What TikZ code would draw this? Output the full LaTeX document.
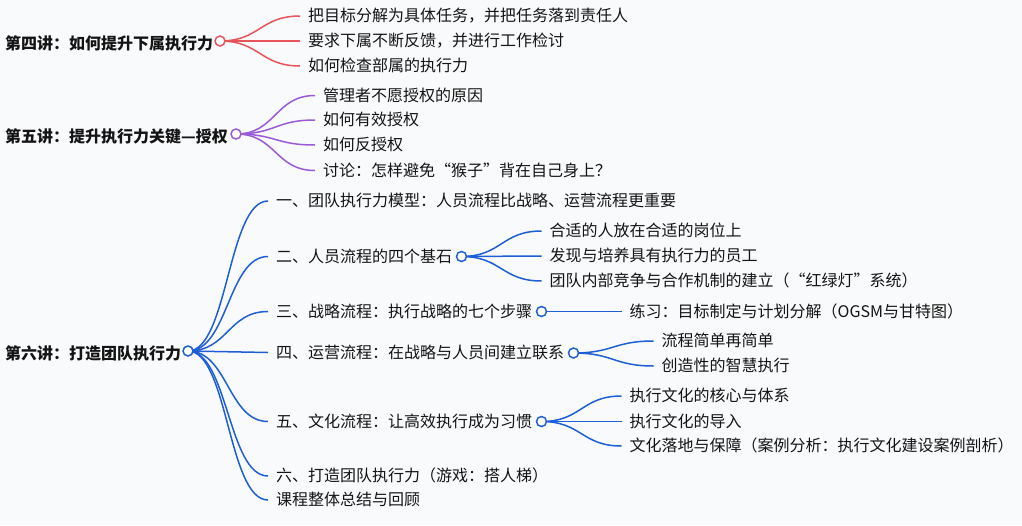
\documentclass[tikz,border=0pt]{standalone}
\usepackage{fontspec}
\setmainfont{Noto Sans CJK SC}
\definecolor{cred}{RGB}{232,84,92}
\definecolor{cpur}{RGB}{153,92,214}
\definecolor{cblue}{RGB}{31,95,214}
\definecolor{txt}{RGB}{20,20,20}
\definecolor{bg}{RGB}{249,250,252}
\tikzset{
  leaf/.style={anchor=west, inner xsep=8pt, inner ysep=0pt, text height=1.12em, text depth=0pt, font=\fontsize{16}{18}\selectfont, text=txt},
  ttl/.style={anchor=west, inner sep=0pt, text height=1.12em, text depth=0pt, font=\fontsize{16}{18}\selectfont\bfseries, text=txt},
  dot/.style={circle, draw=#1, fill=white, line width=1.5pt, minimum size=10pt, inner sep=0pt},
  link/.style={draw=#1, line width=1.5pt},
}
\begin{document}
\begin{tikzpicture}[x=1pt,y=-1pt]
\fill[bg] (0,0) rectangle (1022,525);
\useasboundingbox (0,0) rectangle (1022,525);

% ---------- Lecture 4 ----------
\node[ttl] (t4) at (5,44) {第四讲：如何提升下属执行力};
\coordinate (p4) at (220,41);
\node[leaf] (l4a) at (300,16) {把目标分解为具体任务，并把任务落到责任人};
\node[leaf] (l4b) at (300,41) {要求下属不断反馈，并进行工作检讨};
\node[leaf] (l4c) at (300,66) {如何检查部属的执行力};
\foreach \n in {l4a,l4b,l4c}
  \draw[link=cred] (p4) .. controls +(40,0) and +(-40,0) .. (\n.west);
\node[dot=cred] (c4) at (p4) {};

% ---------- Lecture 5 ----------
\node[ttl] (t5) at (5,137) {第五讲：提升执行力关键—授权};
\coordinate (p5) at (236,134);
\node[leaf] (l5a) at (315,95.5) {管理者不愿授权的原因};
\node[leaf] (l5b) at (315,120) {如何有效授权};
\node[leaf] (l5c) at (315,145) {如何反授权};
\node[leaf] (l5d) at (315,170.5) {讨论：怎样避免“猴子”背在自己身上？};
\foreach \n in {l5a,l5b,l5c,l5d}
  \draw[link=cpur] (p5) .. controls +(40,0) and +(-40,0) .. (\n.west);
\node[dot=cpur] (c5) at (p5) {};

% ---------- Lecture 6 ----------
\node[ttl] (t6) at (5,354) {第六讲：打造团队执行力};
\coordinate (p6) at (188,351);
\node[leaf] (s1) at (268,201) {一、团队执行力模型：人员流程比战略、运营流程更重要};
\node[leaf] (s2) at (268,256.5) {二、人员流程的四个基石};
\node[leaf] (s3) at (268,311.5) {三、战略流程：执行战略的七个步骤};
\node[leaf] (s4) at (268,352.5) {四、运营流程：在战略与人员间建立联系};
\node[leaf] (s5) at (268,421.5) {五、文化流程：让高效执行成为习惯};
\node[leaf] (s6) at (268,476) {六、打造团队执行力（游戏：搭人梯）};
\node[leaf] (s7) at (268,500) {课程整体总结与回顾};
\foreach \n in {s1,s2,s3,s4,s5,s6,s7}
  \draw[link=cblue] (p6) .. controls +(40,0) and +(-40,0) .. (\n.west);

% sub 2
\coordinate (p62) at (461.5,256.5);
\node[leaf] (s2a) at (541.5,231) {合适的人放在合适的岗位上};
\node[leaf] (s2b) at (541.5,256) {发现与培养具有执行力的员工};
\node[leaf] (s2c) at (541.5,281) {团队内部竞争与合作机制的建立（“红绿灯”系统）};
\foreach \n in {s2a,s2b,s2c}
  \draw[link=cblue] (p62) .. controls +(40,0) and +(-40,0) .. (\n.west);

% sub 3
\coordinate (p63) at (541.5,311.5);
\node[leaf] (s3a) at (621.5,311.5) {练习：目标制定与计划分解（OGSM与甘特图）};
\draw[link=cblue] (p63) .. controls +(40,0) and +(-40,0) .. (s3a.west);

% sub 4
\coordinate (p64) at (573.5,353);
\node[leaf] (s4a) at (653.5,341) {流程简单再简单};
\node[leaf] (s4b) at (653.5,366) {创造性的智慧执行};
\foreach \n in {s4a,s4b}
  \draw[link=cblue] (p64) .. controls +(40,0) and +(-40,0) .. (\n.west);

% sub 5
\coordinate (p65) at (541.5,421.5);
\node[leaf] (s5a) at (621.5,396) {执行文化的核心与体系};
\node[leaf] (s5b) at (621.5,421.5) {执行文化的导入};
\node[leaf] (s5c) at (621.5,446) {文化落地与保障（案例分析：执行文化建设案例剖析）};
\foreach \n in {s5a,s5b,s5c}
  \draw[link=cblue] (p65) .. controls +(40,0) and +(-40,0) .. (\n.west);

\node[dot=cblue] (c6) at (p6) {};
\node[dot=cblue] (c62) at (p62) {};
\node[dot=cblue] (c63) at (p63) {};
\node[dot=cblue] (c64) at (p64) {};
\node[dot=cblue] (c65) at (p65) {};
\end{tikzpicture}
\end{document}
